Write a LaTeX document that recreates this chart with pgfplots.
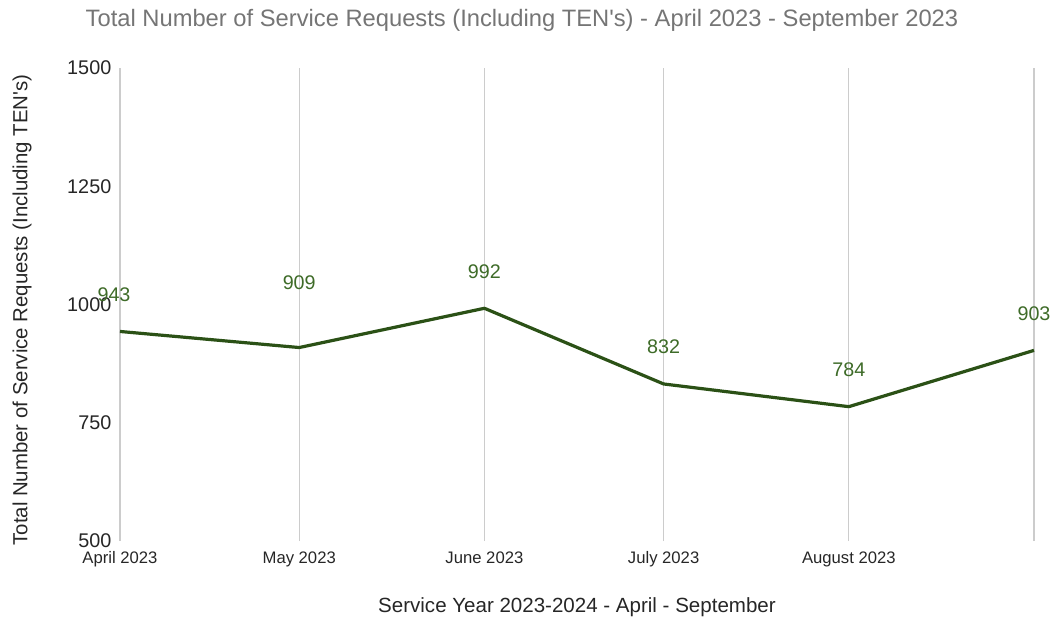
\documentclass[border=0pt]{standalone}
\usepackage{fontspec}
\setmainfont{Liberation Sans}
\usepackage{pgfplots}
\pgfplotsset{compat=1.18}
\definecolor{linegreen}{HTML}{2B5116}
\definecolor{labgreen}{HTML}{3E6B28}
\definecolor{titlegray}{HTML}{757575}
\definecolor{gridgray}{HTML}{CCCCCC}
\begin{document}
\begin{tikzpicture}
\begin{axis}[
  at={(0,0)}, anchor=south west,
  scale only axis, width=685.5pt, height=354.75pt,
  xmin=0, xmax=153, ymin=500, ymax=1500,
  axis line style={draw=none},
  xtick={0,30,61,91,122,153},
  xticklabels={April 2023,May 2023,June 2023,July 2023,August 2023,{}},
  ytick={500,750,1000,1250,1500},
  xmajorgrids, ymajorgrids=false,
  major grid style={gridgray, line width=0.9pt},
  major tick length=0pt,
  tick style={draw=none},
  /pgf/number format/assume math mode=true,
  /pgf/number format/1000 sep={},
  yticklabel style={font=\fontsize{14.85pt}{16pt}\selectfont, text=black!85, anchor=east, xshift=-3pt},
  xticklabel style={font=\fontsize{12.5pt}{14pt}\selectfont, text=black!85, anchor=base, yshift=-16.5pt},
  clip=false,
]
\addplot[linegreen, line width=2.4pt, line join=round] coordinates {
  (0,943) (30,909) (61,992) (91,832) (122,784) (153,903)
};
\begin{scope}[every node/.style={font=\fontsize{14.8pt}{16pt}\selectfont, text=labgreen}]
\node[xshift=-4.5pt, yshift=27.4pt] at (axis cs:0,943) {943};
\node[yshift=49pt] at (axis cs:30,909) {909};
\node[yshift=27.7pt] at (axis cs:61,992) {992};
\node[yshift=27.7pt] at (axis cs:91,832) {832};
\node[yshift=27.7pt] at (axis cs:122,784) {784};
\node[yshift=27.7pt] at (axis cs:153,903) {903};
\end{scope}
\end{axis}
\node[font=\fontsize{17.8pt}{20pt}\selectfont, text=titlegray] at (301.5pt,390.75pt) {Total Number of Service Requests (Including TEN\textquotesingle s) - April 2023 - September 2023};
\node[font=\fontsize{15.3pt}{18pt}\selectfont, text=black!85, rotate=90] at (-73.5pt,173.25pt) {Total Number of Service Requests (Including TEN\textquotesingle s)};
\node[font=\fontsize{15.4pt}{18pt}\selectfont, text=black!85] at (342.75pt,-49.5pt) {Service Year 2023-2024 - April - September};
\pgfresetboundingbox
\path (-90pt,-57.75pt) rectangle (702pt,405.75pt);
\end{tikzpicture}
\end{document}
